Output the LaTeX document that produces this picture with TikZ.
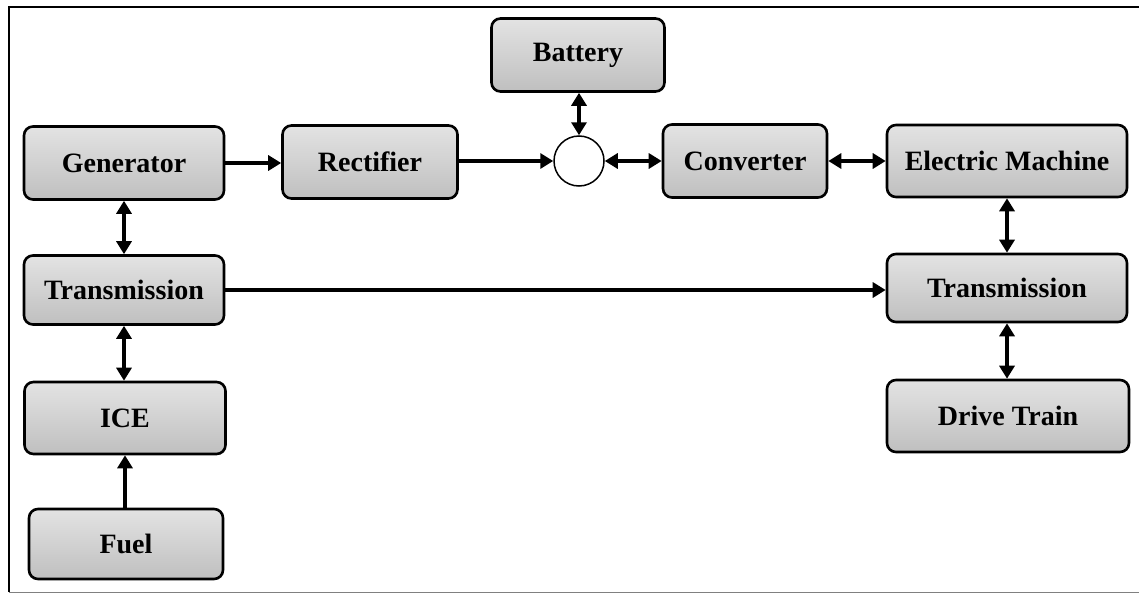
\documentclass[tikz,border=0pt]{standalone}
\usepackage{fontspec}
\setmainfont{Liberation Serif}
\usetikzlibrary{arrows.meta}
\begin{document}
\begin{tikzpicture}[x=1pt,y=-1pt,
  blk/.style={draw, line width=2.6pt, rounded corners=9pt, inner sep=0pt,
    top color=gray!22, bottom color=gray!50,
    font=\fontsize{28}{32}\selectfont\bfseries},
  tipA/.tip={Triangle[length=13pt,width=15pt]},
  conn/.style={line width=4pt, -tipA},
  dconn/.style={line width=4pt, tipA-tipA},
  junction/.style={draw, circle, line width=1.5pt, fill=white, minimum size=50pt, inner sep=0pt}
]
\useasboundingbox (0,0) rectangle (1139,594);
% frame
\draw[line width=1.6pt] (1139,7) -- (9,7) -- (9,592);
\draw[line width=1pt, gray] (9,592) -- (1139,592);

\node[blk, minimum width=200pt, minimum height=73pt] (gen) at (124,163) {Generator};
\node[blk, minimum width=175pt, minimum height=73pt] (rect) at (370,162) {Rectifier};
\node[blk, minimum width=200pt, minimum height=69pt] (tl) at (124,290) {Transmission};
\node[blk, minimum width=201pt, minimum height=72pt] (ice) at (125,418) {ICE};
\node[blk, minimum width=194pt, minimum height=70pt] (fuel) at (126,544) {Fuel};
\node[blk, minimum width=173pt, minimum height=73pt] (bat) at (578,55) {Battery};
\node[junction] (circ) at (579,161) {};
\node[blk, minimum width=164pt, minimum height=73pt] (conv) at (745,161) {Converter};
\node[blk, minimum width=240pt, minimum height=72pt] (em) at (1007,161) {Electric Machine};
\node[blk, minimum width=240pt, minimum height=68pt] (tr) at (1007,288) {Transmission};
\node[blk, minimum width=242pt, minimum height=72pt] (dt) at (1008,416) {Drive Train};

\draw[conn] (gen.east) -- (gen.east -| rect.west);
\draw[conn] (rect.east |- circ.west) -- (circ.west);
\draw[dconn] (circ.east) -- (conv.west);
\draw[dconn] (conv.east) -- (em.west);
\draw[dconn] (bat.south -| circ.north) -- (circ.north);
\draw[dconn] (gen.south) -- (tl.north);
\draw[dconn] (tl.south) -- (tl.south |- ice.north);
\draw[conn] (fuel.north -| ice.south) -- (ice.south);
\draw[conn] (tl.east) -- (tl.east -| tr.west);
\draw[dconn] (em.south) -- (tr.north);
\draw[dconn] (tr.south) -- (tr.south |- dt.north);
\end{tikzpicture}
\end{document}
